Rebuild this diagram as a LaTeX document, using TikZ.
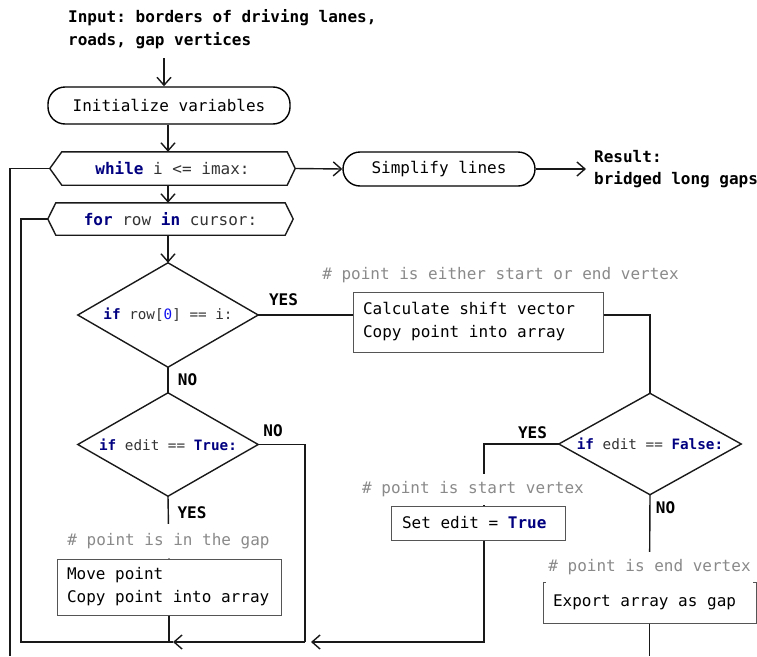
\documentclass[tikz,border=0pt]{standalone}
\usepackage{fontspec}
\setmonofont{DejaVu Sans Mono}
\usetikzlibrary{arrows.meta,calc}
\definecolor{kwblue}{HTML}{000080}
\definecolor{numblue}{HTML}{1010F0}
\definecolor{codegray}{HTML}{333333}
\definecolor{cmtgray}{HTML}{8A8A8A}
\definecolor{boxgray}{HTML}{555555}
\newcommand\kw[1]{\textcolor{kwblue}{\bfseries #1}}
\newcommand\numc[1]{\textcolor{numblue}{#1}}
\tikzset{
  base/.style={font=\ttfamily\fontsize{16}{23}\selectfont, text=black},
  line/.style={line width=1.4pt, draw=black!90},
  arr/.style={line, -{Straight Barb[length=8pt,width=14pt,line width=1.4pt]}},
  stadium/.style={base, draw, line width=1.4pt, rounded corners=17pt, inner sep=0pt},
  hexnode/.style={base, text=codegray, inner sep=0pt},
  decision/.style={inner sep=0pt, text=codegray,
    font=\ttfamily\fontsize{14.3}{18}\selectfont},
  procbox/.style={base, draw=boxgray, line width=1pt, align=flush left, inner ysep=0pt},
  comment/.style={base, text=cmtgray, fill=white, inner xsep=2pt, inner ysep=0pt, minimum height=31pt},
  lbl/.style={font=\ttfamily\bfseries\fontsize{16}{20}\selectfont, inner sep=0pt},
}
\begin{document}
\begin{tikzpicture}[x=1pt,y=-1pt]
\useasboundingbox (0,0) rectangle (757,656);

% nodes
\node[base, font=\ttfamily\bfseries\fontsize{16}{23}\selectfont, anchor=west, align=flush left, inner sep=0pt]
  (input) at (68,29.5) {Input: borders of driving lanes,\\roads, gap vertices};
\coordinate (inarr) at (164,58);
\node[stadium, minimum width=242pt, minimum height=37pt] (init) at (169,105.5) {Initialize variables};
\node[hexnode, minimum width=245pt, minimum height=33pt] (while) at (172.5,168.5)
  {\kw{while} i <= imax:};
\node[stadium, minimum width=192pt, minimum height=34pt] (simp) at (439,169) {Simplify lines};
\node[base, font=\ttfamily\bfseries\fontsize{16}{22}\selectfont, anchor=west, align=flush left,
  inner xsep=8pt, inner ysep=0pt] (res) at (586,169) {Result:\\bridged long gaps};
\node[hexnode, minimum width=245pt, minimum height=32pt] (for) at (170.5,219)
  {\kw{for} row \kw{in} cursor:};

\node[decision, minimum width=180pt, minimum height=104pt] (d1) at (168,315)
  {\kw{if} row[\numc{0}] == i:};
\node[decision, minimum width=180pt, minimum height=103pt] (d3) at (168,444.5)
  {\kw{if} edit == \kw{True:}};
\node[decision, minimum width=182pt, minimum height=101pt] (d2) at (650,444)
  {\kw{if} edit == \kw{False:}};

\node[procbox, text width=230pt, inner xsep=10pt, minimum height=60pt] (calc) at (478,322)
  {Calculate shift vector\\Copy point into array};
\node[procbox, text width=152pt, inner xsep=11pt, minimum height=34pt] (setbox) at (478,523)
  {Set edit = \kw{True}};
\node[procbox, text width=204pt, inner xsep=10pt, minimum height=56pt] (move) at (169,587)
  {Move point\\Copy point into array};
\node[procbox, text width=193pt, inner xsep=10pt, minimum height=41pt] (export) at (649.5,602.5)
  {Export array as gap};

% diamond outlines
\foreach \d in {d1,d2,d3}{
  \draw[line] (\d.north) -- (\d.east) -- (\d.south) -- (\d.west) -- cycle;
}

% hexagon outlines
\draw[line] (while.west) -- ([xshift=12pt]while.north west) -- ([xshift=-8pt]while.north east)
  -- (while.east) -- ([xshift=-8pt]while.south east) -- ([xshift=12pt]while.south west) -- cycle;
\draw[line] (for.west) -- ([xshift=8pt]for.north west) -- ([xshift=-8pt]for.north east)
  -- (for.east) -- ([xshift=-8pt]for.south east) -- ([xshift=8pt]for.south west) -- cycle;

% coordinates for the bottom return line
\coordinate (jR) at (305,642);
\coordinate (jA) at (173,642);
\coordinate (jL) at (21,642);
\coordinate (bot) at (10,656);

% connectors
\draw[arr] (inarr) -- (inarr |- init.north);
\draw[arr] (d1.north |- init.south) -- (d1.north |- while.north);
\draw[arr] (while.east) -- (simp.west);
\draw[arr] (simp.east) -- (res.west);
\draw[arr] (d1.north |- while.south) -- (d1.north |- for.north);
\draw[arr] (d1.north |- for.south) -- (d1.north);

\draw[line] (d1.east) -- (d1.east -| calc.west);
\draw[line] (d1.east -| calc.east) -| (d2.north);
\draw[line] (d1.south) -- (d3.north);
\draw[line] (d3.south) -- (move.north);
\draw[line] (d3.east) -| (jR);
\draw[line] (d2.west) -| ([xshift=6pt]setbox.north);
\draw[line] (d2.south) -- (export.north);
\draw[arr] ([xshift=6pt]setbox.south) |- ([xshift=6pt]jR);
\draw[arr] (jR) -- (jA);
\draw[line] (jA) -- (jL) |- (for.west);
\draw[line] (move.south) -- (move.south |- jL);
\draw[line] (while.west) -| (bot);
\draw[line] (export.south) -- (export.south |- bot);

% comments
\node[comment] (c0) at (500.5,275) {\# point is either start or end vertex};
\node[comment, minimum height=34pt] (c1) at (168.5,541) {\# point is in the gap};
\node[comment] (c2) at (473,489.5) {\# point is start vertex};
\node[comment] (c3) at (649.5,567) {\# point is end vertex};

% labels
\node[lbl] (y1) at (283.5,300) {YES};
\node[lbl] (n1) at (187.5,380) {NO};
\node[lbl] (n3) at (273,431) {NO};
\node[lbl] (y3) at (192,513) {YES};
\node[lbl] (y2) at (532.5,433) {YES};
\node[lbl] (n2) at (665.5,508) {NO};
\end{tikzpicture}
\end{document}
